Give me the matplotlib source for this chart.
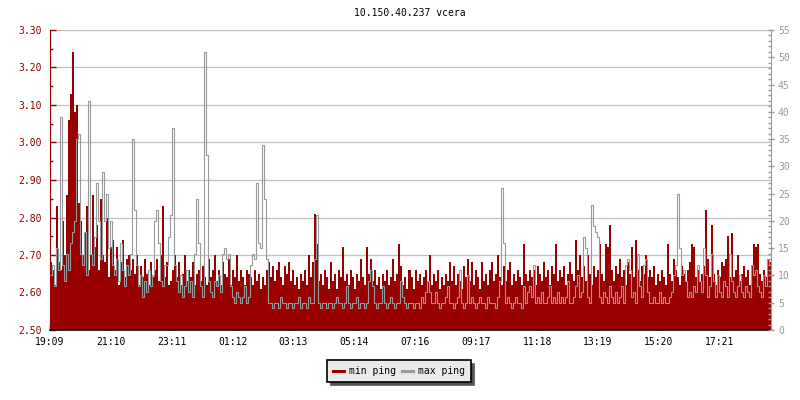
import matplotlib
matplotlib.use('Agg')
import matplotlib.pyplot as plt
from matplotlib.ticker import MultipleLocator, FormatStrFormatter
from matplotlib.lines import Line2D
import numpy as np

plt.rcParams['font.family'] = 'DejaVu Sans Mono'

TITLE = "10.150.40.237 vcera"
SAMPLE_MIN = 4  # one sample every 4 minutes, 24h window

# min ping (ms, left axis)
min_ping = [
    2.68, 2.66, 2.62, 2.83, 2.68, 2.66, 2.79, 2.70, 2.86, 3.06, 3.13, 3.24, 3.08, 3.10, 2.84, 2.79, 2.70, 2.76, 2.83, 2.66,
    2.70, 2.86, 2.72, 2.78, 2.66, 2.85, 2.70, 2.68, 2.80, 2.64, 2.72, 2.74, 2.66, 2.72, 2.62, 2.68, 2.74, 2.64, 2.69, 2.70,
    2.66, 2.69, 2.65, 2.70, 2.62, 2.67, 2.64, 2.69, 2.65, 2.62, 2.68, 2.64, 2.66, 2.69, 2.63, 2.70, 2.83, 2.64, 2.68, 2.62,
    2.63, 2.66, 2.70, 2.64, 2.68, 2.62, 2.65, 2.70, 2.63, 2.66, 2.64, 2.68, 2.62, 2.65, 2.66, 2.63, 2.67, 2.64, 2.62, 2.69,
    2.64, 2.66, 2.70, 2.63, 2.66, 2.62, 2.68, 2.65, 2.64, 2.69, 2.62, 2.66, 2.64, 2.70, 2.63, 2.66, 2.64, 2.62, 2.66, 2.65,
    2.64, 2.62, 2.66, 2.63, 2.65, 2.61, 2.64, 2.62, 2.66, 2.68, 2.64, 2.67, 2.63, 2.66, 2.68, 2.64, 2.62, 2.67, 2.65, 2.68,
    2.63, 2.66, 2.62, 2.64, 2.61, 2.65, 2.63, 2.66, 2.62, 2.70, 2.64, 2.68, 2.81, 2.73, 2.63, 2.65, 2.62, 2.66, 2.64, 2.61,
    2.68, 2.63, 2.65, 2.61, 2.66, 2.64, 2.72, 2.63, 2.65, 2.62, 2.66, 2.64, 2.61, 2.65, 2.63, 2.69, 2.64, 2.62, 2.72, 2.65,
    2.69, 2.63, 2.66, 2.62, 2.64, 2.61, 2.65, 2.63, 2.66, 2.62, 2.64, 2.69, 2.63, 2.65, 2.73, 2.67, 2.62, 2.64, 2.61, 2.66,
    2.64, 2.61, 2.66, 2.63, 2.65, 2.62, 2.64, 2.66, 2.63, 2.70, 2.62, 2.65, 2.63, 2.66, 2.61, 2.64, 2.62, 2.65, 2.63, 2.68,
    2.63, 2.67, 2.62, 2.65, 2.63, 2.61, 2.67, 2.64, 2.69, 2.63, 2.68, 2.62, 2.66, 2.64, 2.61, 2.68, 2.63, 2.65, 2.62, 2.66,
    2.68, 2.63, 2.65, 2.70, 2.64, 2.62, 2.67, 2.63, 2.66, 2.68, 2.62, 2.65, 2.63, 2.66, 2.64, 2.62, 2.73, 2.65, 2.63, 2.66,
    2.64, 2.66, 2.62, 2.67, 2.65, 2.63, 2.68, 2.64, 2.66, 2.62, 2.67, 2.65, 2.73, 2.63, 2.66, 2.64, 2.67, 2.62, 2.65, 2.68,
    2.65, 2.63, 2.74, 2.66, 2.70, 2.64, 2.67, 2.63, 2.70, 2.65, 2.62, 2.67, 2.64, 2.66, 2.73, 2.65, 2.63, 2.73, 2.72, 2.78,
    2.66, 2.63, 2.67, 2.65, 2.69, 2.64, 2.66, 2.62, 2.68, 2.65, 2.72, 2.64, 2.74, 2.66, 2.63, 2.67, 2.65, 2.70, 2.64, 2.66,
    2.64, 2.67, 2.62, 2.65, 2.63, 2.66, 2.64, 2.62, 2.73, 2.65, 2.63, 2.69, 2.66, 2.64, 2.62, 2.67, 2.65, 2.63, 2.66, 2.68,
    2.73, 2.72, 2.64, 2.66, 2.63, 2.65, 2.67, 2.82, 2.69, 2.64, 2.78, 2.65, 2.62, 2.66, 2.64, 2.68, 2.67, 2.69, 2.75, 2.64,
    2.76, 2.64, 2.66, 2.70, 2.63, 2.65, 2.67, 2.64, 2.66, 2.62, 2.67, 2.73, 2.72, 2.73, 2.65, 2.63, 2.66, 2.64, 2.69, 2.68,
]

# max ping (ms, right axis)
max_ping = [
    10, 12, 8, 15, 11, 39, 12, 9, 14, 11, 16, 18, 20, 35, 36, 14, 12, 18, 10, 42,
    14, 12, 17, 27, 20, 13, 29, 20, 25, 15, 20, 12, 10, 13, 9, 16, 11, 8, 12, 10,
    14, 35, 22, 12, 8, 10, 6, 9, 7, 11, 8, 10, 20, 22, 16, 9, 8, 12, 12, 17,
    21, 37, 12, 9, 7, 10, 6, 8, 11, 7, 9, 6, 14, 24, 16, 8, 6, 51, 32, 9,
    7, 6, 9, 8, 10, 7, 14, 15, 13, 14, 8, 6, 5, 7, 6, 5, 6, 8, 5, 6,
    12, 14, 13, 27, 16, 15, 34, 24, 13, 5, 5, 4, 5, 5, 4, 6, 5, 5, 4, 5,
    5, 4, 5, 5, 6, 4, 5, 5, 4, 6, 5, 5, 13, 21, 5, 4, 5, 5, 4, 5,
    5, 4, 5, 6, 5, 5, 4, 5, 8, 5, 4, 5, 5, 6, 4, 5, 5, 4, 5, 9,
    11, 8, 5, 4, 5, 5, 8, 5, 4, 5, 6, 5, 4, 5, 5, 9, 6, 5, 4, 5,
    5, 4, 5, 5, 4, 6, 5, 7, 9, 7, 5, 5, 7, 5, 4, 5, 5, 6, 8, 5,
    5, 4, 5, 6, 11, 5, 4, 5, 10, 5, 6, 5, 4, 5, 6, 5, 5, 4, 6, 5,
    5, 5, 4, 6, 9, 26, 16, 5, 6, 5, 4, 5, 6, 5, 5, 4, 8, 5, 7, 8,
    6, 12, 5, 6, 5, 7, 5, 5, 6, 8, 5, 6, 5, 7, 5, 6, 5, 6, 9, 5,
    5, 6, 8, 10, 6, 7, 17, 15, 6, 5, 23, 19, 18, 17, 6, 5, 7, 6, 5, 8,
    6, 5, 7, 5, 6, 8, 5, 12, 13, 11, 6, 7, 5, 14, 8, 6, 12, 13, 7, 5,
    5, 6, 5, 5, 7, 5, 6, 5, 5, 6, 7, 10, 12, 25, 15, 10, 11, 9, 6, 7,
    6, 8, 7, 12, 9, 7, 15, 10, 6, 8, 14, 9, 6, 10, 7, 6, 9, 8, 6, 14,
    9, 7, 6, 8, 10, 7, 6, 8, 7, 6, 12, 10, 11, 8, 7, 6, 10, 8, 13, 12,
]

tick_labels = ["19:09", "21:10", "23:11", "01:12", "03:13", "05:14",
               "07:16", "09:17", "11:18", "13:19", "15:20", "17:21"]
TICK_STEP = 121.6  # minutes between labelled ticks

RED = '#990000'
GRAY = '#999999'

edges = np.arange(len(min_ping) + 1) * SAMPLE_MIN

fig = plt.figure(figsize=(8, 4), dpi=100)
ax = fig.add_axes([50 / 800, 70 / 400, 721 / 800, 300 / 400])
ax2 = ax.twinx()

# min ping as filled steps on the left scale
ax.stairs(min_ping, edges, baseline=2.5, fill=True, color=RED, linewidth=0)
# max ping as a step line on the right scale
ax2.stairs(max_ping, edges, baseline=None, color=GRAY, linewidth=0.8)

ax.set_xlim(0, edges[-1])
ax.set_ylim(2.5, 3.3)
ax2.set_ylim(0, 55)

ax.yaxis.set_major_locator(MultipleLocator(0.1))
ax.yaxis.set_minor_locator(MultipleLocator(0.05))
ax.yaxis.set_major_formatter(FormatStrFormatter('%.2f'))
ax2.yaxis.set_major_locator(MultipleLocator(5))
ax2.yaxis.set_minor_locator(MultipleLocator(1))

ax.set_xticks(np.arange(len(tick_labels)) * TICK_STEP)
ax.set_xticklabels(tick_labels)

ax.grid(axis='y', color='#c0c0c0', linewidth=0.9)
ax.set_axisbelow(True)

# spines
for a in (ax, ax2):
    a.spines['top'].set_visible(False)
ax.spines['right'].set_visible(False)
ax.spines['left'].set_color(RED)
ax.spines['bottom'].set_color('black')
ax.spines['bottom'].set_linewidth(1.2)
ax.spines['bottom'].set_zorder(5)
ax2.spines['left'].set_visible(False)
ax2.spines['bottom'].set_visible(False)
ax2.spines['right'].set_color(GRAY)

ax.tick_params(axis='y', which='major', direction='in', length=4, width=1,
               color=RED, labelcolor=RED, labelsize=7, pad=6)
ax.tick_params(axis='y', which='minor', direction='in', length=2.5, width=1, color=RED)
ax.tick_params(axis='x', direction='in', length=4, width=1, color='black',
               labelsize=7, pad=5)
ax2.tick_params(axis='y', which='major', direction='inout', length=4, width=1,
                color=GRAY, labelcolor=GRAY, labelsize=7, pad=3)
ax2.tick_params(axis='y', which='minor', direction='in', length=2, width=1, color=GRAY)

fig.text(410 / 800, 1 - 13 / 400, TITLE, ha='center', va='center', fontsize=7)

handles = [Line2D([], [], color=RED, linewidth=2.2), Line2D([], [], color=GRAY, linewidth=2.2)]
leg = fig.legend(handles, ['min ping', 'max ping'], loc='center',
                 bbox_to_anchor=(399 / 800, 1 - 371 / 400), bbox_transform=fig.transFigure,
                 ncol=2, fontsize=7, handlelength=1.1, handletextpad=0.5,
                 columnspacing=0.7, borderpad=0.6, borderaxespad=0,
                 fancybox=False, framealpha=1,
                 facecolor='#eaeaea', edgecolor='black',
                 shadow={'ox': 2.5, 'oy': -2.5, 'color': '#555555', 'alpha': 1})
leg.get_frame().set_linewidth(1.2)

fig.savefig('out.png', dpi=100)
